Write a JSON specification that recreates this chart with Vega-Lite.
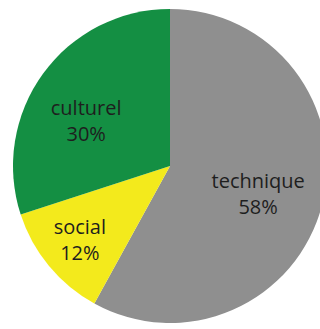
{
  "$schema": "https://vega.github.io/schema/vega-lite/v6.json",
  "width": 314,
  "height": 314,
  "padding": {"left": 13, "top": 9, "right": 0, "bottom": 0},
  "background": "white",
  "config": {"view": {"stroke": null}},
  "data": {
    "values": [
      {"cat": "technique", "value": 58, "rank": 1, "label": "technique\n58%"},
      {"cat": "social", "value": 12, "rank": 2, "label": "social\n12%"},
      {"cat": "culturel", "value": 30, "rank": 3, "label": "culturel\n30%"}
    ]
  },
  "encoding": {
    "theta": {"field": "value", "type": "quantitative", "stack": true},
    "order": {"field": "rank", "type": "quantitative"}
  },
  "layer": [
    {
      "mark": {"type": "arc", "outerRadius": 157},
      "encoding": {
        "color": {
          "field": "cat",
          "type": "nominal",
          "scale": {"domain": ["technique", "social", "culturel"], "range": ["#8f8f8f", "#f3ea1c", "#148f43"]},
          "legend": null
        }
      }
    },
    {
      "mark": {"type": "text", "radius": 91, "dy": -7, "fontSize": 20, "font": "Open Sans", "lineBreak": "\n", "lineHeight": 26, "color": "#1e1e1e"},
      "encoding": {
        "text": {"condition": {"test": "datum.cat === 'technique'", "field": "label"}, "value": ""}
      }
    },
    {
      "mark": {"type": "text", "radius": 117, "dy": -13, "fontSize": 20, "font": "Open Sans", "lineBreak": "\n", "lineHeight": 26, "color": "#1e1e1e"},
      "encoding": {
        "text": {"condition": {"test": "datum.cat === 'social'", "field": "label"}, "value": ""}
      }
    },
    {
      "mark": {"type": "text", "radius": 95, "dx": -7, "dy": -1, "fontSize": 20, "font": "Open Sans", "lineBreak": "\n", "lineHeight": 26, "color": "#1e1e1e"},
      "encoding": {
        "text": {"condition": {"test": "datum.cat === 'culturel'", "field": "label"}, "value": ""}
      }
    }
  ]
}
